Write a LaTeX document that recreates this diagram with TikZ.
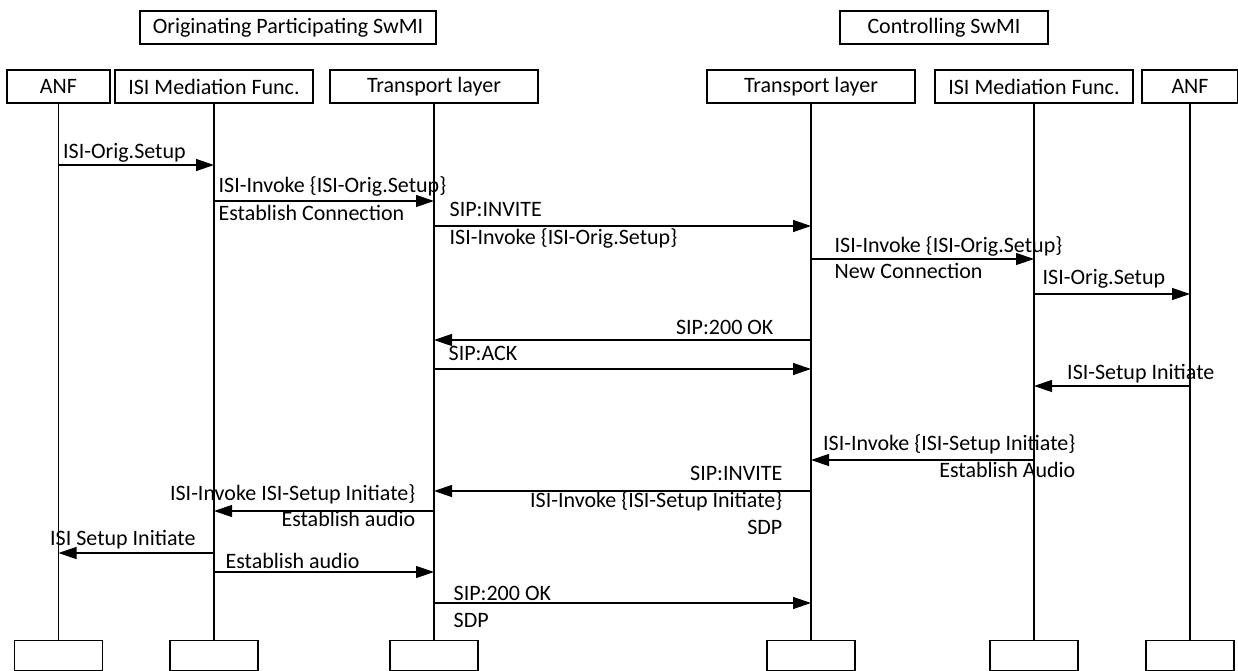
\documentclass[tikz,border=0pt]{standalone}
\usepackage{fontspec}
\setmainfont{Carlito}
\usetikzlibrary{arrows.meta}

\begin{document}
\begin{tikzpicture}[x=1pt, y=-1pt,
		every node/.style={font=\fontsize{22}{26}\selectfont},
		group/.style={draw, line width=1.3pt, minimum height=33pt, inner sep=0pt},
		head/.style={draw, line width=1.3pt, minimum height=33pt, inner sep=0pt},
		foot/.style={draw, line width=1.3pt, minimum width=88pt, minimum height=30pt, inner sep=0pt, anchor=north},
		life/.style={line width=1.3pt},
		msg/.style={line width=1.3pt, -{Triangle[length=18pt,width=12pt]}},
		lw/.style={anchor=base west, inner sep=0pt},
		le/.style={anchor=base east, inner sep=0pt}]
		%%%%% START %%%%%
		\useasboundingbox (0,0) rectangle (1238,671);
		
		\node[group, minimum width=296pt] (origSwmi) at (288,27.5) {Originating Participating SwMI};
		\node[group, minimum width=208pt] (ctrlSwmi) at (944,27.5) {Controlling SwMI};
		
		\node[head, minimum width=103pt] (anfA) at (58.5,86.5) {ANF};
		\node[head, minimum width=198pt] (isiA) at (214,86.5) {ISI Mediation Func.};
		\node[head, minimum width=208pt] (tlA) at (434,86.5) {Transport layer};
		\node[head, minimum width=208pt] (tlB) at (811,86.5) {Transport layer};
		\node[head, minimum width=198pt] (isiB) at (1034,86.5) {ISI Mediation Func.};
		\node[head, minimum width=96pt] (anfB) at (1190,86.5) {ANF};
		
		\node[foot] (anfAend) at (anfA |- 0,640) {};
		\node[foot] (isiAend) at (isiA |- 0,640) {};
		\node[foot] (tlAend) at (tlA |- 0,640) {};
		\node[foot] (tlBend) at (tlB |- 0,640) {};
		\node[foot] (isiBend) at (isiB |- 0,640) {};
		\node[foot] (anfBend) at (anfB |- 0,640) {};
		
		\draw[life] (anfA.south) -- (anfAend.north);
		\draw[life] (isiA.south) -- (isiAend.north);
		\draw[life] (tlA.south) -- (tlAend.north);
		\draw[life] (tlB.south) -- (tlBend.north);
		\draw[life] (isiB.south) -- (isiBend.north);
		\draw[life] (anfB.south) -- (anfBend.north);
		
		\draw[msg] (anfA |- 0,165) -- node[lw, at start, xshift=4pt, yshift=6pt] (m1a) {ISI-Orig.Setup} (isiA |- 0,165);
		\draw[msg] (isiA |- 0,201) -- node[lw, at start, xshift=4pt, yshift=9pt] (m2a) {ISI-Invoke \{ISI-Orig.Setup\}}
			node[lw, at start, xshift=4pt, yshift=-19pt] (m2b) {Establish Connection} (tlA |- 0,201);
		\draw[msg] (tlA |- 0,226) -- node[lw, at start, xshift=15pt, yshift=10pt] (m3a) {SIP:INVITE}
			node[lw, at start, xshift=15pt, yshift=-18pt] (m3b) {ISI-Invoke \{ISI-Orig.Setup\}} (tlB |- 0,226);
		\draw[msg] (tlB |- 0,259) -- node[lw, at start, xshift=23pt, yshift=7pt] (m4a) {ISI-Invoke \{ISI-Orig.Setup\}}
			node[lw, at start, xshift=23pt, yshift=-19pt] (m4b) {New Connection} (isiB |- 0,259);
		\draw[msg] (isiB |- 0,294) -- node[lw, at start, xshift=8pt, yshift=10pt] (m5a) {ISI-Orig.Setup} (anfB |- 0,294);
		
		\draw[msg] (tlB |- 0,340) -- node[le, at start, xshift=-37pt, yshift=6pt] (m6a) {SIP:200 OK} (tlA |- 0,340);
		\draw[msg] (tlA |- 0,369) -- node[lw, at start, xshift=14pt, yshift=9pt] (m7a) {SIP:ACK} (tlB |- 0,369);
		\draw[msg] (anfB |- 0,386) -- node[le, at start, xshift=25pt, yshift=7pt] (m8a) {ISI-Setup Initiate} (isiB |- 0,386);
		
		\draw[msg] (isiB |- 0,460) -- node[le, at start, xshift=42pt, yshift=10pt] (m9a) {ISI-Invoke \{ISI-Setup Initiate\}}
			node[le, at start, xshift=42pt, yshift=-17pt] (m9b) {Establish Audio} (tlB |- 0,460);
		\draw[msg] (tlB |- 0,491) -- node[le, at start, xshift=-28pt, yshift=11pt] (m10a) {SIP:INVITE}
			node[le, at start, xshift=-28pt, yshift=-16pt] (m10b) {ISI-Invoke \{ISI-Setup Initiate\}}
			node[le, at start, xshift=-28pt, yshift=-43pt] (m10c) {SDP} (tlA |- 0,491);
		\draw[msg] (tlA |- 0,511) -- node[le, at start, xshift=-18pt, yshift=11pt] (m11a) {ISI-Invoke ISI-Setup Initiate\}}
			node[le, at start, xshift=-18pt, yshift=-15pt] (m11b) {Establish audio} (isiA |- 0,511);
		\draw[msg] (isiA |- 0,553) -- node[lw, at end, xshift=-9pt, yshift=8pt] (m12a) {ISI Setup Initiate} (anfA |- 0,553);
		\draw[msg] (isiA |- 0,572) -- node[lw, at start, xshift=11pt, yshift=4pt] (m13a) {Establish audio} (tlA |- 0,572);
		\draw[msg] (tlA |- 0,603) -- node[lw, at start, xshift=19pt, yshift=3pt] (m14a) {SIP:200 OK}
			node[lw, at start, xshift=19pt, yshift=-24pt] (m14b) {SDP} (tlB |- 0,603);
		
		%%%%% END %%%%%
	\end{tikzpicture}
\end{document}
